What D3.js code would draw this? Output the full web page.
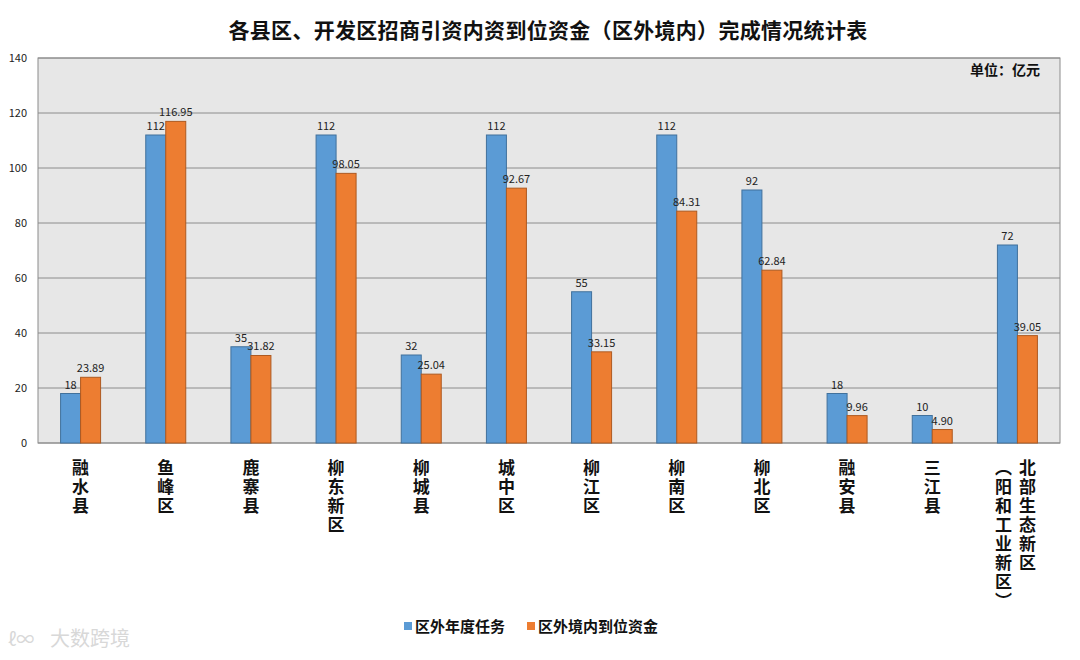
<!DOCTYPE html>
<html><head><meta charset="utf-8">
<script src="https://cdn.jsdelivr.net/npm/d3@7"></script>
<style>body{margin:0;background:#fff}svg{display:block}
.vt{writing-mode:vertical-rl;text-orientation:upright;}</style>
</head><body><svg id="c" width="1080" height="660"></svg>
<script>
const categories = ["融水县","鱼峰区","鹿寨县","柳东新区","柳城县","城中区","柳江区","柳南区","柳北区","融安县","三江县","北部生态新区|（阳和工业新区）"];
const taskValues = [18,112,35,112,32,112,55,112,92,18,10,72];
const fundValues = [23.89,116.95,31.82,98.05,25.04,92.67,33.15,84.31,62.84,9.96,4.90,39.05];
const taskLabels = ["18","112","35","112","32","112","55","112","92","18","10","72"];
const fundLabels = ["23.89","116.95","31.82","98.05","25.04","92.67","33.15","84.31","62.84","9.96","4.90","39.05"];
const seriesNames = ["区外年度任务","区外境内到位资金"];
const yTicks = [0,20,40,60,80,100,120,140];

const svg = d3.select("#c");
const L=38,R=1060,T=58,B=443;
const x = d3.scaleBand().domain(categories).range([L,R]);
const y = d3.scaleLinear().domain([0,140]).range([B,T]);
const font = "'Microsoft YaHei','Noto Sans CJK SC',sans-serif";

svg.append("text").attr("x",548).attr("y",38).attr("text-anchor","middle")
  .attr("font-family",font).attr("font-weight","bold").attr("font-size",21).attr("fill","#111")
  .attr("letter-spacing",0.3)
  .text("各县区、开发区招商引资内资到位资金（区外境内）完成情况统计表");

svg.append("rect").attr("x",L).attr("y",T).attr("width",R-L).attr("height",B-T)
  .attr("fill","#e7e7e7").attr("stroke","#8c8c8c");

svg.append("g").selectAll("line").data(yTicks.slice(1)).join("line")
  .attr("x1",L).attr("x2",R).attr("y1",d=>y(d)).attr("y2",d=>y(d))
  .attr("stroke","#8c8c8c").attr("stroke-width",1);

const yAxis = svg.append("g").attr("transform",`translate(${L},0)`)
  .call(d3.axisLeft(y).tickValues(yTicks).tickSize(0).tickPadding(11));
yAxis.select(".domain").remove();
yAxis.selectAll("text").attr("font-family",font).attr("font-size",11).attr("fill","#222");

svg.append("line").attr("x1",L).attr("x2",R).attr("y1",B).attr("y2",B).attr("stroke","#8c8c8c");

svg.append("text").attr("x",1040).attr("y",75).attr("text-anchor","end")
  .attr("font-family",font).attr("font-weight","bold").attr("font-size",14).attr("fill","#111")
  .text("单位：亿元");

const bw = 20;
const colors=["#5b9bd5","#ed7d31"], strokes=["#41719c","#ae5a21"];
const g = svg.append("g");
categories.forEach((c,i)=>{
  const cx = x(c)+x.bandwidth()/2;
  [[taskValues[i],taskLabels[i]],[fundValues[i],fundLabels[i]]].forEach((v,s)=>{
    const bx = s===0? cx-bw : cx;
    g.append("rect").attr("x",bx).attr("y",y(v[0])).attr("width",bw).attr("height",B-y(v[0]))
      .attr("fill",colors[s]).attr("stroke",strokes[s]).attr("stroke-width",1);
    g.append("text").attr("x",bx+bw/2).attr("y",y(v[0])-5).attr("text-anchor","middle")
      .attr("font-family",font).attr("font-size",11).attr("fill","#222").text(v[1]);
  });
  const cols = c.split("|");
  const n = cols.length;
  cols.forEach((col,k)=>{
    const colX = n===1 ? cx : cx + 10 - k*24;
    svg.append("text").attr("class","vt").attr("x",colX).attr("y",459)
      .attr("font-family",font).attr("font-weight","bold").attr("font-size",17)
      .attr("letter-spacing",2).attr("fill","#111").text(col);
  });
});

const leg = svg.append("g");
const legItems=[{x:404,c:0},{x:527,c:1}];
legItems.forEach(li=>{
  leg.append("rect").attr("x",li.x).attr("y",622).attr("width",8).attr("height",8)
    .attr("fill",colors[li.c]);
  leg.append("text").attr("x",li.x+11).attr("y",632).attr("font-family",font)
    .attr("font-weight","bold").attr("font-size",15).attr("fill","#111").text(seriesNames[li.c]);
});

svg.append("text").attr("x",50).attr("y",646).attr("font-family",font).attr("font-size",20)
  .attr("fill","#d8d8d8").text("大数跨境");
svg.append("text").attr("x",8).attr("y",646).attr("font-family",font).attr("font-size",18)
  .attr("fill","#d8d8d8").text("ℓ∞");
</script></body></html>
